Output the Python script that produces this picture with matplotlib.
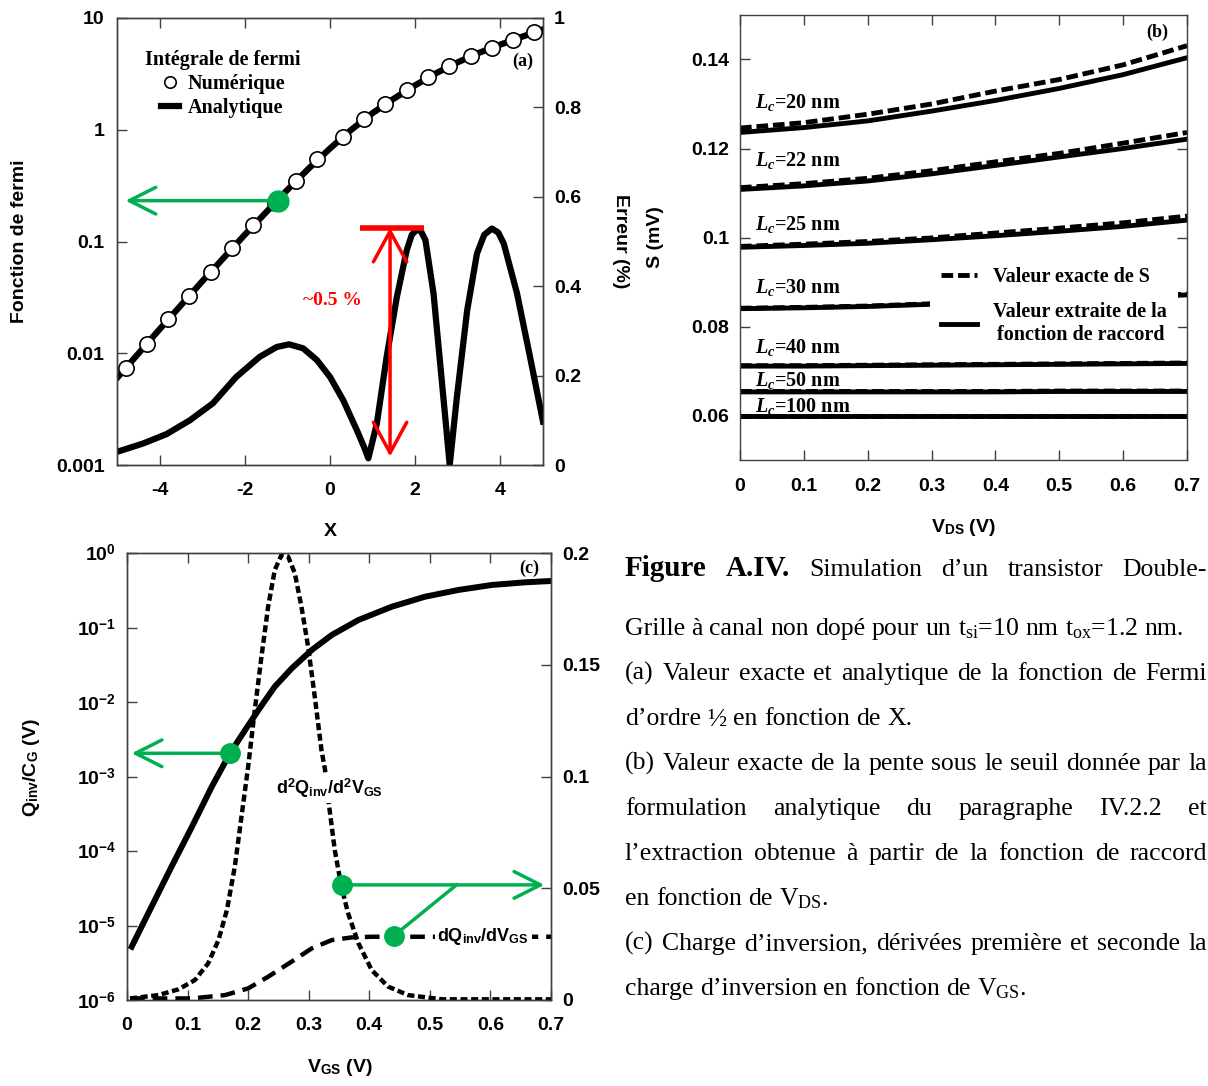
import math
import matplotlib
matplotlib.use("Agg")
import matplotlib.pyplot as plt
from matplotlib.ticker import FixedLocator, FuncFormatter, NullLocator

W, H = 1208, 1086
GREEN = "#00b050"

# ---------------- (a) Fermi integral: numeric vs analytic, and error ----------------
fermi_x = [-4.8, -4.3, -3.8, -3.3, -2.8, -2.3, -1.8, -1.3, -0.8, -0.3,
           0.3, 0.8, 1.3, 1.8, 2.3, 2.8, 3.3, 3.8, 4.3, 4.8]
fermi_num = [0.0074, 0.0121, 0.0202, 0.0327, 0.0536, 0.0867, 0.140, 0.221, 0.351, 0.543,
             0.867, 1.24, 1.70, 2.26, 2.94, 3.71, 4.55, 5.44, 6.39, 7.53]
fermi_ana_x = [-5.0, -4.0, -3.0, -2.0, -1.0, -0.5, 0.0, 0.5, 1.0, 1.5, 2.0, 2.5, 3.0, 3.5,
               4.0, 4.5, 5.0]
fermi_ana = [0.0060, 0.0164, 0.044, 0.115, 0.29, 0.45, 0.68, 1.0, 1.41, 1.90, 2.50, 3.22,
             4.02, 4.88, 5.78, 6.78, 7.9]
err_x = [-4.98, -4.39, -3.84, -3.29, -2.75, -2.20, -1.65, -1.25, -0.96, -0.63, -0.31, 0.0,
         0.31, 0.63, 0.80, 0.90, 1.10, 1.33, 1.57, 1.80, 1.92, 2.04, 2.14, 2.24, 2.43, 2.63,
         2.81, 2.98, 3.22, 3.45, 3.62, 3.80, 3.95, 4.08, 4.39, 4.71, 5.0]
err_pct = [0.030, 0.048, 0.069, 0.100, 0.138, 0.197, 0.242, 0.264, 0.270, 0.261, 0.235,
           0.197, 0.145, 0.078, 0.040, 0.015, 0.093, 0.242, 0.376, 0.480, 0.515, 0.527,
           0.522, 0.503, 0.384, 0.183, 0.0, 0.153, 0.346, 0.473, 0.515, 0.529, 0.520, 0.495,
           0.384, 0.235, 0.097]

# ---------------- (b) subthreshold slope S vs VDS ----------------
vds = [0.0, 0.1, 0.2, 0.3, 0.4, 0.5, 0.6, 0.7]
lc_names = ["20", "22", "25", "30", "40", "50", "100"]
s_exact_20 = [0.1246, 0.1258, 0.1277, 0.1300, 0.1329, 0.1355, 0.1388, 0.1431]
s_fit_20 = [0.1236, 0.1247, 0.1262, 0.1284, 0.1308, 0.1335, 0.1366, 0.1404]
s_exact_22 = [0.1112, 0.1121, 0.1133, 0.1150, 0.1170, 0.1189, 0.1212, 0.1236]
s_fit_22 = [0.1108, 0.1116, 0.1127, 0.1143, 0.1162, 0.1181, 0.1200, 0.1221]
s_exact_25 = [0.0980, 0.0985, 0.0991, 0.0999, 0.1010, 0.1021, 0.1033, 0.1048]
s_fit_25 = [0.0978, 0.0982, 0.0987, 0.0995, 0.1004, 0.1014, 0.1025, 0.1039]
s_exact_30 = [0.0841, 0.0843, 0.0846, 0.0851, 0.0856, 0.0861, 0.0866, 0.0873]
s_fit_30 = [0.0840, 0.0842, 0.0845, 0.0850, 0.0855, 0.0860, 0.0865, 0.0871]
s_exact_40 = [0.0712, 0.0712, 0.0713, 0.0714, 0.0715, 0.0716, 0.0717, 0.0718]
s_fit_40 = [0.0711, 0.0711, 0.0712, 0.0713, 0.0714, 0.0715, 0.0716, 0.0717]
s_exact_50 = [0.0654, 0.0654, 0.0654, 0.0654, 0.0654, 0.0655, 0.0655, 0.0655]
s_fit_50 = [0.0653, 0.0653, 0.0653, 0.0653, 0.0653, 0.0654, 0.0654, 0.0654]
s_exact_100 = [0.0600, 0.0600, 0.0600, 0.0600, 0.0600, 0.0600, 0.0600, 0.0600]
s_fit_100 = [0.0600, 0.0600, 0.0600, 0.0600, 0.0600, 0.0600, 0.0600, 0.0600]
lc_label_y = [0.1304, 0.1174, 0.1030, 0.0887, 0.0752, 0.0678, 0.0620]

# ---------------- (c) inversion charge and derivatives ----------------
vgs_q = [0.0077, 0.0407, 0.0737, 0.107, 0.140, 0.170, 0.195, 0.217, 0.244, 0.272, 0.305,
         0.338, 0.382, 0.437, 0.492, 0.547, 0.602, 0.657, 0.700]
q_inv = [5.2e-6, 1.8e-5, 6.2e-5, 2.1e-4, 7.3e-4, 2.05e-3, 4.2e-3, 7.8e-3, 0.0161, 0.0283,
         0.0499, 0.0793, 0.126, 0.190, 0.259, 0.319, 0.372, 0.404, 0.421]
vgs_d2 = [0.005, 0.052, 0.085, 0.112, 0.134, 0.151, 0.165, 0.178, 0.189, 0.200, 0.211,
          0.222, 0.233, 0.244, 0.255, 0.266, 0.277, 0.288, 0.299, 0.310, 0.321, 0.327,
          0.3335, 0.343, 0.354, 0.365, 0.382, 0.404, 0.431, 0.464, 0.520, 0.700]
d2q = [0.0007, 0.0022, 0.0048, 0.0089, 0.0164, 0.0268, 0.0403, 0.0597, 0.0820, 0.1044,
       0.1298, 0.1536, 0.176, 0.1924, 0.1991, 0.1984, 0.191, 0.176, 0.158, 0.1357, 0.1119,
       0.1029, 0.0872, 0.0671, 0.0507, 0.0388, 0.0254, 0.0134, 0.006, 0.0022, 0.0003, 0.0003]
vgs_d1 = [0.005, 0.107, 0.162, 0.200, 0.233, 0.272, 0.305, 0.338, 0.371, 0.404, 0.700]
dq = [0.0007, 0.0007, 0.0022, 0.0052, 0.0104, 0.0172, 0.0231, 0.0268, 0.0280, 0.0283, 0.0283]

# ---------------- caption ----------------
caption_lines = [
    "Figure A.IV. Simulation d’un transistor Double-",
    r"Grille à canal non dopé pour un t$_{\mathrm{si}}$=10 nm t$_{\mathrm{ox}}$=1.2 nm.",
    "(a) Valeur exacte et analytique de la fonction de Fermi",
    "d’ordre ½ en fonction de X.",
    "(b) Valeur exacte de la pente sous le seuil donnée par la",
    "formulation analytique du paragraphe IV.2.2 et",
    "l’extraction obtenue à partir de la fonction de raccord",
    r"en fonction de V$_{\mathrm{DS}}$.",
    "(c) Charge d’inversion, dérivées première et seconde la",
    r"charge d’inversion en fonction de V$_{\mathrm{GS}}$.",
]
caption_justified = [True, False, True, False, True, True, True, False, True, False]
caption_bold = ["Figure", "A.IV."]

plt.rcParams["font.family"] = ["Liberation Sans", "DejaVu Sans"]
plt.rcParams["font.weight"] = "bold"
plt.rcParams["axes.labelweight"] = "bold"
plt.rcParams["font.size"] = 14
plt.rcParams["axes.unicode_minus"] = False
plt.rcParams["mathtext.fontset"] = "custom"
plt.rcParams["mathtext.rm"] = "Liberation Serif:normal"
plt.rcParams["mathtext.it"] = "Liberation Serif:italic:bold"
plt.rcParams["mathtext.bf"] = "Liberation Serif:bold"
plt.rcParams["mathtext.sf"] = "Liberation Sans:bold"

SPINE = "#404040"
SERIF = "Liberation Serif"


def frame(ax):
    for s in ax.spines.values():
        s.set_color(SPINE)
        s.set_linewidth(1.0)


def px_axes(l, t, r, b):
    return [l / W, 1 - b / H, (r - l) / W, (b - t) / H]


fig = plt.figure(figsize=(W / 100, H / 100), dpi=100)
fig.patch.set_facecolor("white")

gfmt = FuncFormatter(lambda v, _: f"{v:g}")
arrow_kw = dict(arrowstyle="->,head_length=0.95,head_width=0.48", color=GREEN, lw=2.5,
                mutation_scale=20, shrinkA=0, shrinkB=0)

# ======================= panel (a) =======================
ax = fig.add_axes(px_axes(117, 18, 543, 465))
ax2 = ax.twinx()
frame(ax)
frame(ax2)
ana_line, = ax.plot(fermi_ana_x, fermi_ana, color="black", lw=4.5, zorder=2, label="Analytique")
num_line, = ax.plot(fermi_x, fermi_num, "o", mfc="white", mec="black", ms=11, mew=1.2,
                    zorder=3, label="Numérique")
ax.set_yscale("log")
ax.set_xlim(-5, 5)
ax.set_ylim(0.001, 10)
ax.xaxis.set_major_locator(FixedLocator([-4, -2, 0, 2, 4]))
ax.yaxis.set_major_locator(FixedLocator([0.001, 0.01, 0.1, 1, 10]))
ax.yaxis.set_minor_locator(NullLocator())
ax.yaxis.set_major_formatter(gfmt)
ax.tick_params(direction="in", length=7, width=1, color=SPINE, labelsize=14)
ax.tick_params(axis="x", top=True, pad=12)
ax.tick_params(axis="y", right=False, pad=9)
ax.set_xlabel("X", va="center")
ax.xaxis.set_label_coords(0.5, -0.148)
ax.set_ylabel("Fonction de fermi", va="center")
ax.yaxis.set_label_coords(-0.228, 0.5)

ax2.plot(err_x, err_pct, color="black", lw=4.5, solid_joinstyle="round")
ax2.set_ylim(0, 1)
ax2.yaxis.set_major_locator(FixedLocator([0, 0.2, 0.4, 0.6, 0.8, 1.0]))
ax2.yaxis.set_major_formatter(gfmt)
ax2.tick_params(direction="in", length=7, width=1, color=SPINE, labelsize=14, pad=8)
ax2.set_ylabel("Erreur (%)", rotation=270, va="center")
ax2.yaxis.set_label_coords(1.181, 0.5)

ax.plot([-1.22], [0.232], "o", color=GREEN, ms=15, zorder=4)
ax.annotate("", xy=(-4.8, 0.232), xytext=(-1.22, 0.232), arrowprops=arrow_kw)
ax2.plot([0.71, 2.21], [0.531, 0.531], color="red", lw=4, solid_capstyle="butt")
ax2.annotate("", xy=(1.41, 0.019), xytext=(1.41, 0.531),
             arrowprops=dict(arrowstyle="<->,head_length=1.1,head_width=0.6", color="red",
                             lw=2.5, mutation_scale=20, shrinkA=0, shrinkB=0))
ax2.text(0.06, 0.369, "~0.5 %", color="red", family=SERIF, weight="bold", size=14,
         ha="center", va="center")
ax2.text(0.953, 0.902, "(a)", transform=ax2.transAxes, family=SERIF, weight="bold", size=13,
         ha="center", va="center")
ax2.legend(handles=[num_line, ana_line], title="Intégrale de fermi", loc="upper left",
           bbox_to_anchor=(0.043, 0.95), frameon=False,
           prop=dict(family=SERIF, weight="bold", size=14.5),
           title_fontproperties=dict(family=SERIF, weight="bold", size=14.5),
           handlelength=0.9, handletextpad=0.4, labelspacing=0.2, borderpad=0,
           markerscale=0.75)

# ======================= panel (b) =======================
bx = fig.add_axes(px_axes(740, 15, 1187, 460))
frame(bx)
exact_sets = [s_exact_20, s_exact_22, s_exact_25, s_exact_30, s_exact_40, s_exact_50, s_exact_100]
fit_sets = [s_fit_20, s_fit_22, s_fit_25, s_fit_30, s_fit_40, s_fit_50, s_fit_100]
handles = []
for name, ex, fit, ly in zip(lc_names, exact_sets, fit_sets, lc_label_y):
    h1, = bx.plot(vds, ex, color="black", lw=3.5, dashes=(2.4, 1.0), dash_capstyle="butt")
    h2, = bx.plot(vds, fit, color="black", lw=3.5)
    if not handles:
        handles = [h1, h2]
    bx.text(0.0235, ly, r"$L_c$=" + name + " nm", family=SERIF, weight="bold", size=14.5,
            va="center", ha="left")
bx.set_xlim(0, 0.7)
bx.set_ylim(0.05, 0.15)
bx.xaxis.set_major_locator(FixedLocator([0, 0.1, 0.2, 0.3, 0.4, 0.5, 0.6, 0.7]))
bx.yaxis.set_major_locator(FixedLocator([0.06, 0.08, 0.1, 0.12, 0.14]))
bx.xaxis.set_major_formatter(gfmt)
bx.yaxis.set_major_formatter(gfmt)
bx.tick_params(direction="in", length=7, width=1, color=SPINE, labelsize=14, top=True, right=True)
bx.tick_params(axis="x", pad=13)
bx.tick_params(axis="y", pad=8)
bx.set_xlabel(r"V$_{\mathsf{DS}}$ (V)", va="center")
bx.xaxis.set_label_coords(0.5, -0.151)
bx.set_ylabel("S (mV)", va="center")
bx.yaxis.set_label_coords(-0.190, 0.5)
bx.text(0.933, 0.962, "(b)", transform=bx.transAxes, family=SERIF, weight="bold", size=13,
        ha="center", va="center")
lb = bx.legend(handles=handles, labels=["Valeur exacte de S", "Valeur extraite de la\nfonction de raccord"],
               loc="upper left", bbox_to_anchor=(0.425, 0.458), frameon=True, fancybox=False,
               facecolor="white", edgecolor="none", framealpha=1,
               prop=dict(family=SERIF, weight="bold", size=14.5), handlelength=1.8,
               handletextpad=0.8, labelspacing=0.75, borderpad=0.55, borderaxespad=0)
for t in lb.get_texts():
    t.set_multialignment("center")

# ======================= panel (c) =======================
cx = fig.add_axes(px_axes(127, 553, 551, 1000))
cx2 = cx.twinx()
frame(cx)
frame(cx2)
cx.plot(vgs_q, q_inv, color="black", lw=4.3, solid_joinstyle="round")
cx.set_yscale("log")
cx.set_xlim(0, 0.7)
cx.set_ylim(1e-6, 1)
cx.xaxis.set_major_locator(FixedLocator([0, 0.1, 0.2, 0.3, 0.4, 0.5, 0.6, 0.7]))
cx.xaxis.set_major_formatter(gfmt)
cx.yaxis.set_major_locator(FixedLocator([1e-6, 1e-5, 1e-4, 1e-3, 1e-2, 1e-1, 1]))
cx.yaxis.set_minor_locator(NullLocator())
cx.yaxis.set_major_formatter(FuncFormatter(
    lambda v, _: r"10$^{\mathsf{%d}}$" % round(math.log10(v))))
cx.tick_params(direction="in", length=7, width=1, color=SPINE, labelsize=14)
cx.tick_params(axis="x", top=True, pad=12)
cx.tick_params(axis="y", right=False, pad=8)
cx.set_xlabel(r"V$_{\mathsf{GS}}$ (V)", va="center")
cx.xaxis.set_label_coords(0.502, -0.152)
cx.set_ylabel(r"Q$_{\mathsf{inv}}$/C$_{\mathsf{G}}$ (V)", va="center")
cx.yaxis.set_label_coords(-0.226, 0.519)

cx2.plot(vgs_d2, d2q, color="black", lw=3.2, dashes=(1.6, 0.8), dash_capstyle="butt")
cx2.plot(vgs_d1, dq, color="black", lw=3.2, dashes=(3.3, 1.8), dash_capstyle="butt")
cx2.set_ylim(0, 0.2)
cx2.yaxis.set_major_locator(FixedLocator([0, 0.05, 0.1, 0.15, 0.2]))
cx2.yaxis.set_major_formatter(gfmt)
cx2.tick_params(direction="in", length=7, width=1, color=SPINE, labelsize=14, pad=8)
cx2.text(0.335, 0.0947, r"d$^{\mathsf{2}}$Q$_{\mathsf{inv}}$/d$^{\mathsf{2}}$V$_{\mathsf{GS}}$",
         size=13, ha="center", va="center",
         bbox=dict(facecolor="white", edgecolor="none", pad=2))
cx2.text(0.588, 0.0283, r"dQ$_{\mathsf{inv}}$/dV$_{\mathsf{GS}}$", size=13, ha="center",
         va="center", bbox=dict(facecolor="white", edgecolor="none", pad=2))
cx2.text(0.948, 0.966, "(c)", transform=cx2.transAxes, family=SERIF, weight="bold", size=13,
         ha="center", va="center")

cx.plot([0.170], [2.05e-3], "o", color=GREEN, ms=14, zorder=4)
cx.annotate("", xy=(0.0077, 2.05e-3), xytext=(0.170, 2.05e-3), arrowprops=arrow_kw)
cx2.plot([0.544, 0.44], [0.0515, 0.0286], color=GREEN, lw=2.5)
cx2.annotate("", xy=(0.689, 0.0515), xytext=(0.3555, 0.0515), arrowprops=arrow_kw)
cx2.plot([0.3555, 0.44], [0.0515, 0.0286], "o", color=GREEN, ms=14, zorder=4)

# ======================= caption (justified) =======================
renderer = fig.canvas.get_renderer()
x_left, x_right = 625, 1207
base_y = [576, 635, 680, 725, 770, 815, 860, 905, 950, 995]
BODY = 18.5
for line, just, yb in zip(caption_lines, caption_justified, base_y):
    words = line.split(" ")
    arts = []
    for w in words:
        bold = w in caption_bold and yb == base_y[0]
        arts.append(fig.text(0, 1 - yb / H, w, family=SERIF, size=21 if bold else BODY,
                             weight="bold" if bold else "normal", ha="left", va="baseline"))
    widths = [a.get_window_extent(renderer).width for a in arts]
    if just:
        gap = (x_right - x_left - sum(widths)) / (len(words) - 1)
    else:
        gap = 0.25 * BODY * 100 / 72
    xp = x_left
    for a, wd in zip(arts, widths):
        a.set_x(xp / W)
        xp += wd + gap

fig.savefig("out.png", dpi=100)
